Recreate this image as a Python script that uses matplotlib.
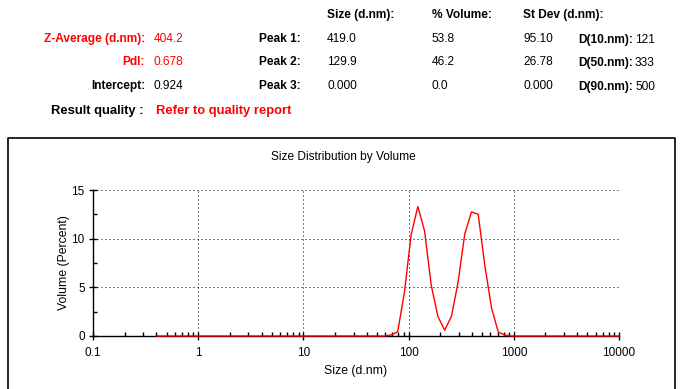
import matplotlib
matplotlib.use("Agg")
import matplotlib.pyplot as plt
from matplotlib.lines import Line2D
from matplotlib.ticker import FixedLocator, NullFormatter

plt.rcParams["font.family"] = ["Liberation Sans", "DejaVu Sans"]

# size bins (d.nm) and volume distribution (%)
sizes = [0.4, 0.4632, 0.5365, 0.6213, 0.7195, 0.8332, 0.9649, 1.117, 1.294, 1.499,
         1.736, 2.010, 2.328, 2.696, 3.122, 3.615, 4.187, 4.849, 5.615, 6.503,
         7.531, 8.721, 10.10, 11.70, 13.54, 15.69, 18.17, 21.04, 24.36, 28.21,
         32.67, 37.84, 43.82, 50.75, 58.77, 68.06, 78.82, 91.28, 105.7, 122.4,
         141.8, 164.2, 190.1, 220.2, 255.0, 295.3, 342.0, 396.1, 458.7, 531.2,
         615.1, 712.4, 825.0, 955.4, 1106, 1281, 1484, 1718, 1990, 2305,
         2669, 3091, 3580, 4145, 4801, 5560, 6439, 7456, 8635, 10000]
volume = [0.0] * 35 + [0.1, 0.45, 4.5, 10.4, 13.3, 10.8, 5.2, 2.0, 0.6, 2.0,
                       5.5, 10.5, 12.75, 12.5, 7.2, 2.85, 0.4, 0.1] + [0.0] * 17

x_ticks = [0.1, 1, 10, 100, 1000, 10000]
x_tick_labels = ["0.1", "1", "10", "100", "1000", "10000"]
y_ticks = [0, 5, 10, 15]

# result table
header_cols = ["Size (d.nm):", "% Volume:", "St Dev (d.nm):"]
left_labels = ["Z-Average (d.nm):", "PdI:", "Intercept:"]
left_values = ["404.2", "0.678", "0.924"]
left_red = [True, True, False]
peak_labels = ["Peak 1:", "Peak 2:", "Peak 3:"]
peak_size = ["419.0", "129.9", "0.000"]
peak_vol = ["53.8", "46.2", "0.0"]
peak_sd = ["95.10", "26.78", "0.000"]
d_labels = ["D(10.nm):", "D(50.nm):", "D(90.nm):"]
d_values = ["121", "333", "500"]

W, H = 683, 389
RED = "#ff0000"
fig = plt.figure(figsize=(W / 100, H / 100), dpi=100)


def px(x, y):
    return x / W, 1 - y / H


fs = 8.6
row_y = [39, 62, 86]
for x, t in zip([327, 432, 523], header_cols):
    fig.text(*px(x, 15), t, fontsize=fs, fontweight="bold", va="center")
for i, y in enumerate(row_y):
    c = RED if left_red[i] else "black"
    fig.text(*px(145, y), left_labels[i], fontsize=fs, fontweight="bold",
             color=c, ha="right", va="center")
    fig.text(*px(154, y), left_values[i], fontsize=fs, color=c, va="center")
    fig.text(*px(259, y), peak_labels[i], fontsize=fs, fontweight="bold", va="center")
    fig.text(*px(327, y), peak_size[i], fontsize=fs, va="center")
    fig.text(*px(432, y), peak_vol[i], fontsize=fs, va="center")
    fig.text(*px(523, y), peak_sd[i], fontsize=fs, va="center")
    fig.text(*px(578, y + 1), d_labels[i], fontsize=fs, fontweight="bold", va="center")
    fig.text(*px(635, y + 1), d_values[i], fontsize=fs, va="center")
fig.text(*px(144, 111), "Result quality :", fontsize=9.4, fontweight="bold",
         ha="right", va="center")
fig.text(*px(156, 111), "Refer to quality report", fontsize=9.4, fontweight="bold",
         color=RED, va="center")

# chart frame
fx0, fx1, fy0 = 7.5 / W, 674.5 / W, 1 - 137.5 / H
fig.add_artist(Line2D([fx0, fx0, fx1, fx1], [0, fy0, fy0, 0],
                      transform=fig.transFigure, color="black", lw=1.2))
fig.text(*px(343, 157), "Size Distribution by Volume", fontsize=8.6,
         ha="center", va="center")

ax = fig.add_axes([93 / W, (H - 336) / H, (619 - 93) / W, (336 - 190) / H])
ax.plot(sizes, volume, color=RED, lw=1.0, zorder=5, clip_on=False)
ax.set_xscale("log")
ax.set_xlim(0.1, 10000)
ax.set_ylim(0, 15)
ax.set_xticks(x_ticks)
ax.set_xticklabels(x_tick_labels)
ax.xaxis.set_minor_locator(FixedLocator(
    [m * d for d in [0.1, 1, 10, 100, 1000] for m in range(2, 10)]))
ax.xaxis.set_minor_formatter(NullFormatter())
ax.set_yticks(y_ticks)
ax.yaxis.set_minor_locator(FixedLocator([2.5, 7.5, 12.5]))
ax.tick_params(which="major", direction="inout", length=6, width=1.0,
               labelsize=8.5)
ax.tick_params(axis="x", which="major", pad=5)
ax.tick_params(axis="y", which="major", pad=3)
ax.tick_params(which="minor", direction="in", length=3, width=1.0)
ax.grid(True, which="major", color="black", lw=0.72, linestyle=(0, (1, 3)))
for s in ["top", "right"]:
    ax.spines[s].set_visible(False)
for s in ["left", "bottom"]:
    ax.spines[s].set_linewidth(1.0)
ax.set_xlabel("Size (d.nm)", fontsize=8.8, labelpad=4)
ax.set_ylabel("Volume (Percent)", fontsize=8.8, labelpad=1)

fig.savefig("out.png", dpi=100)
